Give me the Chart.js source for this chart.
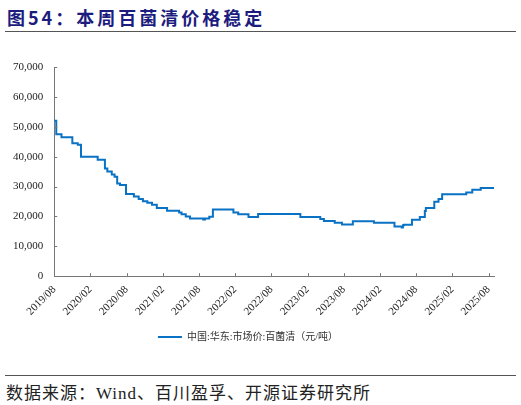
<!DOCTYPE html>
<html>
<head>
<meta charset="utf-8">
<script src="https://cdn.jsdelivr.net/npm/chart.js@4.4.1/dist/chart.umd.min.js"></script>
<style>
  body { margin: 0; width: 521px; height: 405px; background: #fff; position: relative; overflow: hidden; }
  #title { position: absolute; left: 7px; top: 4px; font-family: 'Noto Sans CJK SC', sans-serif; font-weight: bold; font-size: 18px; color: #1c1c7e; letter-spacing: 3px; }
  .rule { position: absolute; left: 5px; width: 511px; height: 0; border-top: 1.5px solid #555; }
  #src { position: absolute; left: 6px; top: 379px; font-family: 'Liberation Serif', 'Noto Sans CJK SC', serif; font-size: 17px; color: #222; letter-spacing: 1px; }
  #wrap { position: absolute; left: 0; top: 40px; width: 521px; height: 312px; }
</style>
</head>
<body>
<div id="title">图54：本周百菌清价格稳定</div>
<div class="rule" style="top:31px"></div>
<div id="wrap"><canvas id="chart"></canvas></div>
<div class="rule" style="top:375px"></div>
<div id="src">数据来源：Wind、百川盈孚、开源证券研究所</div>
<script>
// 价格变动日期（阶梯）
const dates = ['2019-08-01','2019-08-11','2019-09-07','2019-11-01','2019-11-28','2019-12-14',
  '2020-03-07','2020-04-13','2020-04-25','2020-05-17','2020-06-01','2020-06-14','2020-06-28',
  '2020-07-28','2020-09-07','2020-10-01','2020-10-22','2020-11-14','2020-12-07','2021-01-01',
  '2021-02-22','2021-04-22','2021-05-04','2021-05-25','2021-06-16','2021-08-22','2021-09-01',
  '2021-09-22','2021-10-10','2022-01-22','2022-02-16','2022-04-07','2022-05-25','2022-12-25',
  '2023-04-04','2023-04-22','2023-06-16','2023-07-22','2023-09-16','2024-01-01','2024-04-13',
  '2024-05-19','2024-05-25','2024-06-01','2024-07-10','2024-08-19','2024-09-14','2024-09-19',
  '2024-11-01','2024-11-22','2024-12-10','2025-04-10','2025-05-10','2025-06-22','2025-08-28'];
// 百菌清 华东市场价（元/吨）
const prices = [52000,47500,46500,44500,44000,40000,
  39000,36000,35000,34000,33300,31000,30500,
  27500,26700,25800,25100,24600,23900,22800,
  21900,21300,20700,20000,19300,19000,19300,
  19900,22300,21300,20700,19800,20800,19800,
  19100,18500,17900,17300,18400,17900,16600,
  16300,17000,17200,18900,19800,21800,22800,
  24900,25800,27400,28000,28900,29500,29500];
const tickLabels = ['2019/08','2020/02','2020/08','2021/02','2021/08','2022/02','2022/08',
  '2023/02','2023/08','2024/02','2024/08','2025/02','2025/08'];
const seriesName = '中国:华东:市场价:百菌清（元/吨）';

// 日期转为距2019/08的月数
function toMonth(s) {
  const [y, m, d] = s.split('-').map(Number);
  return (y - 2019) * 12 + (m - 8) + (d - 1) / 30;
}
const tickValues = tickLabels.map((t, i) => i * 6);
const points = dates.map((d, i) => ({ x: toMonth(d), y: prices[i] }));

// 刻度线画在坐标轴内侧
const innerTicks = {
  id: 'innerTicks',
  afterDraw(chart) {
    const { ctx, scales: { x, y } } = chart;
    ctx.save();
    ctx.strokeStyle = '#777';
    ctx.lineWidth = 1;
    ctx.beginPath();
    x.ticks.forEach(t => {
      const px = Math.round(x.getPixelForValue(t.value)) + 0.5;
      ctx.moveTo(px, x.top);
      ctx.lineTo(px, x.top - 3);
    });
    y.ticks.forEach(t => {
      const py = Math.round(y.getPixelForValue(t.value)) + 0.5;
      ctx.moveTo(y.right, py);
      ctx.lineTo(y.right + 3, py);
    });
    ctx.stroke();
    ctx.restore();
  }
};

Chart.defaults.font.family = "'Liberation Serif', 'Noto Sans CJK SC', serif";
Chart.defaults.color = '#333';

new Chart(document.getElementById('chart'), {
  type: 'line',
  data: {
    datasets: [{
      label: seriesName,
      data: points,
      stepped: 'before',
      borderColor: '#0a72c4',
      backgroundColor: '#0a72c4',
      borderWidth: 2,
      pointRadius: 0
    }]
  },
  options: {
    responsive: true,
    maintainAspectRatio: false,
    animation: false,
    layout: { padding: { left: 2, right: 27, top: 27, bottom: 0 } },
    plugins: {
      legend: {
        position: 'bottom',
        labels: { boxWidth: 24, boxHeight: 0, font: { size: 10 }, color: '#333', padding: 7 }
      },
      tooltip: { enabled: false }
    },
    scales: {
      x: {
        type: 'linear',
        min: 0,
        max: 72.9,
        afterBuildTicks: scale => { scale.ticks = tickValues.map(v => ({ value: v })); },
        ticks: {
          maxRotation: 45, minRotation: 45, padding: 7,
          font: { size: 11 }, color: '#222',
          callback: v => tickLabels[tickValues.indexOf(v)]
        },
        grid: { display: true, drawOnChartArea: false, drawTicks: false },
        border: { color: '#777', width: 1 }
      },
      y: {
        min: 0,
        max: 70000,
        ticks: {
          stepSize: 10000, padding: 11,
          font: { size: 11 }, color: '#222',
          callback: v => v.toLocaleString('en-US')
        },
        grid: { display: true, drawOnChartArea: false, drawTicks: false },
        border: { color: '#777', width: 1 }
      }
    }
  },
  plugins: [innerTicks]
});
</script>
</body>
</html>
